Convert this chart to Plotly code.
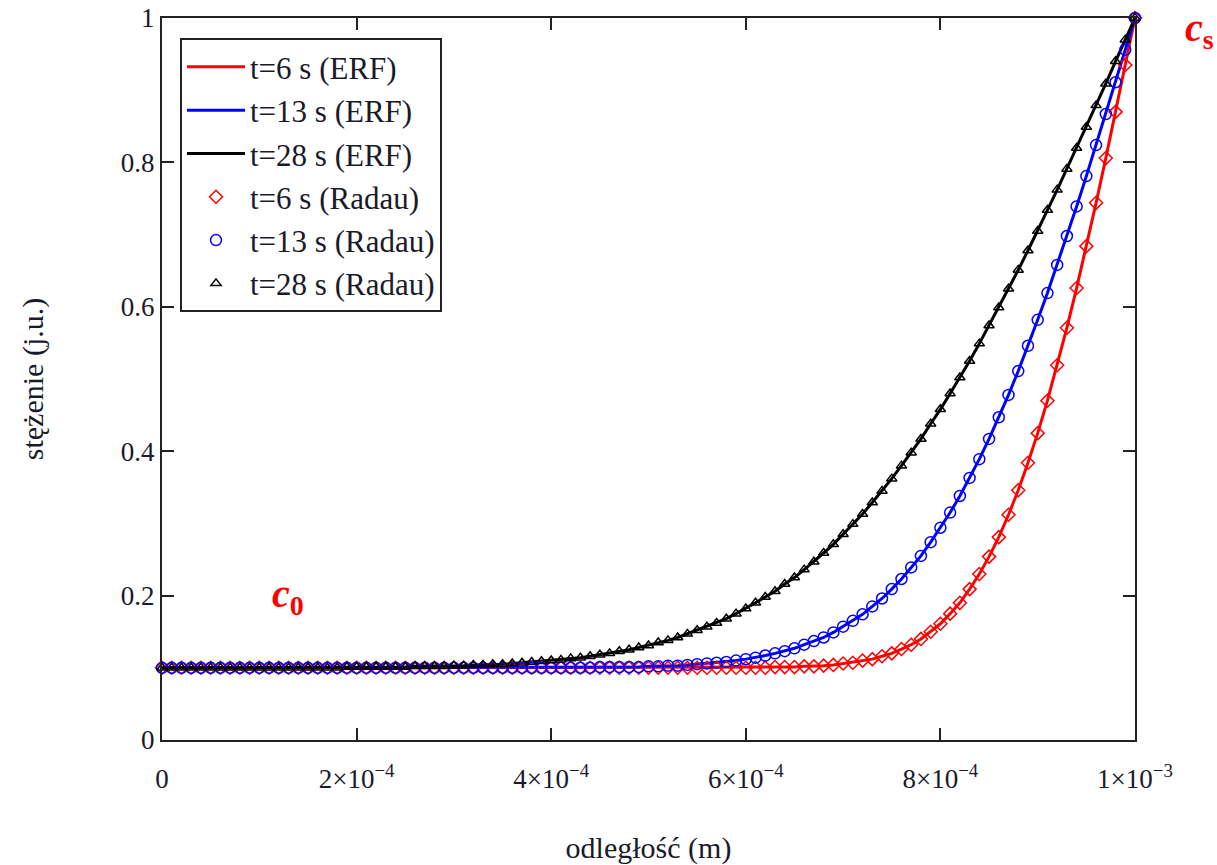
import numpy as np
import plotly.graph_objects as go

# concentration profiles, x = 0 ... 1e-3 m in 1e-5 m steps
c_t6 = [
    0.100, 0.100, 0.100, 0.100, 0.100, 0.100, 0.100,
    0.100, 0.100, 0.100, 0.100, 0.100, 0.100, 0.100,
    0.100, 0.100, 0.100, 0.100, 0.100, 0.100, 0.100,
    0.100, 0.100, 0.100, 0.100, 0.100, 0.100, 0.100,
    0.100, 0.100, 0.100, 0.100, 0.100, 0.100, 0.100,
    0.100, 0.100, 0.100, 0.100, 0.100, 0.100, 0.100,
    0.100, 0.100, 0.100, 0.100, 0.100, 0.100, 0.100,
    0.100, 0.100, 0.100, 0.100, 0.100, 0.100, 0.100,
    0.100, 0.100, 0.100, 0.100, 0.100, 0.100, 0.100,
    0.101, 0.101, 0.101, 0.102, 0.102, 0.103, 0.104, 0.106, 0.107, 0.110,
    0.112, 0.116, 0.120, 0.126, 0.132, 0.140, 0.150, 0.161, 0.175, 0.190,
    0.209, 0.230, 0.254, 0.281, 0.312, 0.346, 0.384, 0.425, 0.470, 0.519,
    0.571, 0.626, 0.684, 0.744, 0.806, 0.870, 0.935, 1.000,
]
c_t13 = [
    0.100, 0.100, 0.100, 0.100, 0.100, 0.100, 0.100, 0.100, 0.100,
    0.100, 0.100, 0.100, 0.100, 0.100, 0.100, 0.100, 0.100, 0.100,
    0.100, 0.100, 0.100, 0.100, 0.100, 0.100, 0.100, 0.100, 0.100,
    0.100, 0.100, 0.100, 0.100, 0.100, 0.100, 0.100, 0.100, 0.100,
    0.100, 0.100, 0.100, 0.100, 0.100, 0.100, 0.100, 0.100, 0.100,
    0.101, 0.101, 0.101, 0.101, 0.101, 0.102, 0.102, 0.103, 0.103, 0.104,
    0.105, 0.106, 0.107, 0.108, 0.110, 0.112, 0.114, 0.117, 0.120, 0.123,
    0.127, 0.132, 0.137, 0.142, 0.149, 0.157, 0.165, 0.174, 0.185, 0.196,
    0.209, 0.223, 0.239, 0.255, 0.274, 0.294, 0.315, 0.338, 0.363, 0.389,
    0.417, 0.447, 0.478, 0.511, 0.546, 0.582, 0.619, 0.658, 0.698, 0.739,
    0.781, 0.824, 0.867, 0.911, 0.956, 1.000,
]
c_t28 = [
    0.100, 0.100, 0.100, 0.100, 0.100, 0.100, 0.100, 0.100, 0.100, 0.100,
    0.100, 0.100, 0.100, 0.100, 0.100, 0.100, 0.100, 0.100, 0.100,
    0.101, 0.101, 0.101, 0.101, 0.101, 0.101, 0.101, 0.102, 0.102, 0.102,
    0.102, 0.103, 0.103, 0.104, 0.104, 0.105, 0.105, 0.106, 0.107, 0.108,
    0.109, 0.110, 0.111, 0.113, 0.114, 0.116, 0.118, 0.120, 0.123, 0.125,
    0.128, 0.131, 0.135, 0.138, 0.142, 0.147, 0.152, 0.157, 0.162, 0.168,
    0.175, 0.182, 0.190, 0.198, 0.206, 0.216, 0.225, 0.236, 0.247, 0.259,
    0.271, 0.285, 0.299, 0.313, 0.329, 0.345, 0.362, 0.380, 0.398, 0.417,
    0.438, 0.458, 0.480, 0.502, 0.525, 0.549, 0.574, 0.599, 0.625, 0.651,
    0.678, 0.705, 0.734, 0.762, 0.791, 0.820, 0.849, 0.879, 0.909, 0.940,
    0.970, 1.000,
]

series_names_erf = ["t=6 s (ERF)", "t=13 s (ERF)", "t=28 s (ERF)"]
series_names_radau = ["t=6 s (Radau)", "t=13 s (Radau)", "t=28 s (Radau)"]
series_values = [c_t6, c_t13, c_t28]
colors = ["#ff0000", "#0000ff", "#000000"]
symbols = ["diamond-open", "circle-open", "triangle-up-open"]
sizes = [10, 11, 9]

x_tickvals = [0, 2e-4, 4e-4, 6e-4, 8e-4, 1e-3]
x_ticktext = ["0", "2×10<sup>−4</sup>", "4×10<sup>−4</sup>", "6×10<sup>−4</sup>",
              "8×10<sup>−4</sup>", "1×10<sup>−3</sup>"]
y_tickvals = [0, 0.2, 0.4, 0.6, 0.8, 1]
y_ticktext = ["0", "0.2", "0.4", "0.6", "0.8", "1"]

SERIF = "Liberation Serif, Times New Roman, serif"
TXT = "#1a1a2a"

fig = go.Figure()
for name, vals, col in zip(series_names_erf, series_values, colors):
    x = np.linspace(0, 1e-3, len(vals))
    fig.add_trace(go.Scatter(x=x, y=vals, mode="lines", name=name,
                             line=dict(color=col, width=3)))
for name, vals, col, sym, sz in zip(series_names_radau, series_values, colors, symbols, sizes):
    x = np.linspace(0, 1e-3, len(vals))
    fig.add_trace(go.Scatter(x=x, y=vals, mode="markers", name=name, cliponaxis=False,
                             marker=dict(symbol=sym, color=col, size=sz,
                                         line=dict(color=col, width=1.5))))

axis_common = dict(showline=True, linecolor="#222222", linewidth=2, mirror="ticks",
                   ticks="inside", ticklen=12, tickwidth=2, tickcolor="#222222",
                   showgrid=False, zeroline=False, automargin=False,
                   tickfont=dict(family=SERIF, size=27, color=TXT))

fig.update_xaxes(range=[0, 1e-3], tickvals=x_tickvals, ticktext=x_ticktext,
                 ticklabelstandoff=14,
                 title=dict(text="odległość (m)", font=dict(family=SERIF, size=30, color=TXT),
                            standoff=44),
                 **axis_common)
fig.update_yaxes(range=[0, 1], tickvals=y_tickvals, ticktext=y_ticktext,
                 title=dict(text="stężenie (j.u.)", font=dict(family=SERIF, size=30, color=TXT),
                            standoff=68),
                 **axis_common)

fig.add_annotation(x=1.3e-4, y=0.2, xref="x", yref="y", text="<b><i>c</i><sub>0</sub></b>",
                   xanchor="center", yanchor="middle",
                   showarrow=False, font=dict(family=SERIF, size=40, color="#ff0000"))
fig.add_annotation(x=1.066, y=0.984, xref="paper", yref="paper", text="<b><i>c</i><sub>s</sub></b>",
                   xanchor="center", yanchor="middle",
                   showarrow=False, font=dict(family=SERIF, size=40, color="#ff0000"))

fig.update_layout(
    width=1217, height=865,
    margin=dict(l=162, r=82, t=18, b=125, autoexpand=False),
    paper_bgcolor="white", plot_bgcolor="white",
    showlegend=True,
    legend=dict(x=0.0185, y=0.972, xanchor="left", yanchor="top",
                bgcolor="white", bordercolor="#222222", borderwidth=2,
                font=dict(family=SERIF, size=31, color=TXT),
                itemwidth=58, tracegroupgap=0),
)

fig.write_html("out.html")
